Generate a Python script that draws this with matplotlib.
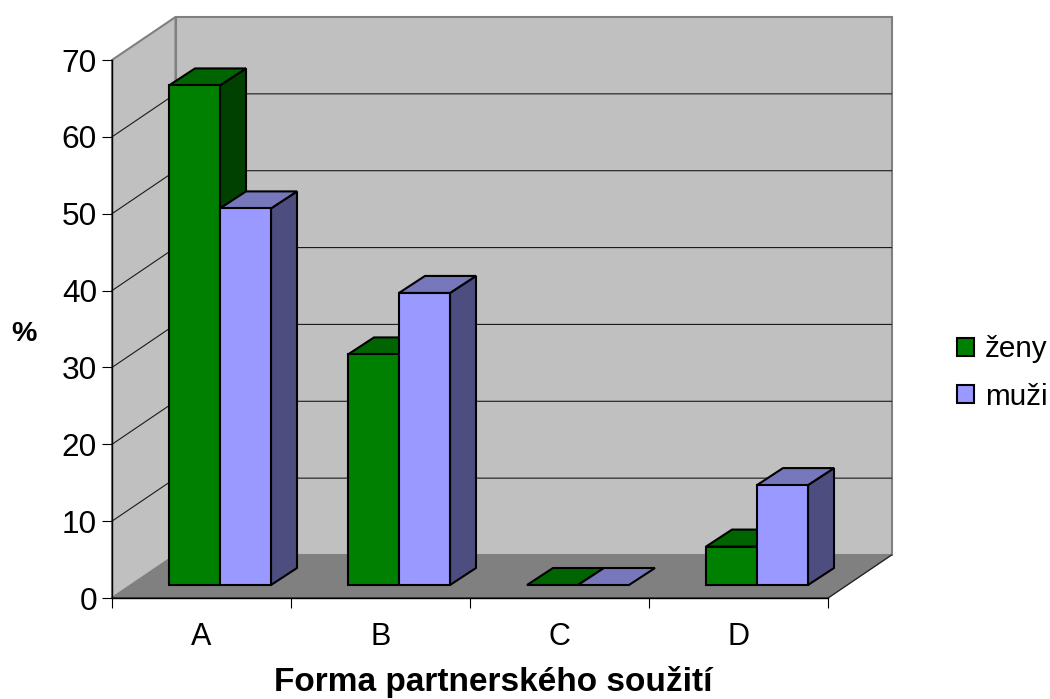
import matplotlib
matplotlib.use("Agg")
import matplotlib.pyplot as plt
from matplotlib.patches import Polygon, Patch
from matplotlib.lines import Line2D

plt.rcParams['font.family'] = ['Liberation Sans', 'DejaVu Sans']

categories = ['A', 'B', 'C', 'D']
zeny = [65, 30, 0, 5]
muzi = [49, 38, 0, 13]
y_ticks = [0, 10, 20, 30, 40, 50, 60, 70]
series_names = ['ženy', 'muži']
xlabel = 'Forma partnerského soužití'
ylabel = '%'

W, H = 1050, 699
fig = plt.figure(figsize=(W / 100, H / 100), dpi=100, facecolor='white')
L, R, T, B = 112, 828, 60, 598
ax = fig.add_axes([L / W, (H - B) / H, (R - L) / W, (B - T) / H])
ax.set_xlim(-0.5, 3.5)
ax.set_ylim(0, 70)
ax.patch.set_visible(False)

PX = (R - L) / 4            # pixels per category
PY = (B - T) / 70           # pixels per value unit


def off(x, v, dx=0, dy=0):
    """data point shifted by screen pixels (dy up)."""
    return (x + dx / PX, v + dy / PY)


def poly(pts, fc, ec='black', lw=1.5, z=2, **kw):
    ax.add_patch(Polygon(pts, closed=True, facecolor=fc, edgecolor=ec, linewidth=lw,
                         joinstyle='miter', clip_on=False, zorder=z, **kw))


WALL_D = (63.5, 43)
x0, x1 = -0.5, 3.5
vmax = y_ticks[-1]
# back wall, left wall, floor
poly([off(x0, 0, *WALL_D), off(x1, 0, *WALL_D), off(x1, vmax, *WALL_D), off(x0, vmax, *WALL_D)],
     '#C0C0C0', ec='#808080', lw=1.5, z=1)
poly([off(x0, 0), off(x0, 0, *WALL_D), off(x0, vmax, *WALL_D), off(x0, vmax)],
     '#C0C0C0', ec='#808080', lw=1.5, z=1)
poly([off(x0, 0), off(x1, 0), off(x1, 0, *WALL_D), off(x0, 0, *WALL_D)],
     '#808080', ec='#808080', lw=1, z=1)

# grid lines
for v in y_ticks[1:-1]:
    pts = [off(x0, v), off(x0, v, *WALL_D), off(x1, v, *WALL_D)]
    ax.add_line(Line2D([p[0] for p in pts], [p[1] for p in pts], color='#1a1a1a', lw=0.8,
                       clip_on=False, zorder=1.5))

# floor outline front / right
pts = [off(x0, 0), off(x1, 0), off(x1, 0, *WALL_D)]
ax.add_line(Line2D([p[0] for p in pts], [p[1] for p in pts], color='#222222', lw=0.9,
                   clip_on=False, zorder=1.6))

# bars
BW = 51
SHIFT = (18.5, 13)
DEPTH = (26, 17)
styles = [('#008000', '#006400', '#004000'), ('#9999FF', '#7777BB', '#4D4D80')]


def bar(x, v, left_px, style):
    f, t, s = style
    sx, sy = SHIFT
    dx, dy = DEPTH
    a = left_px + sx
    b = a + BW
    c = a + dx
    d = b + dx
    sy2 = sy + dy
    if v > 0:
        poly([off(x, 0, b, sy), off(x, 0, d, sy2), off(x, v, d, sy2), off(x, v, b, sy)], s)
    poly([off(x, v, a, sy), off(x, v, b, sy), off(x, v, d, sy2), off(x, v, c, sy2)], t)
    if v > 0:
        poly([off(x, 0, a, sy), off(x, 0, b, sy), off(x, v, b, sy), off(x, v, a, sy)], f)


for i in range(len(categories)):
    bar(i, zeny[i], -BW, styles[0])
    bar(i, muzi[i], 0, styles[1])

# axes
for side in ('top', 'right'):
    ax.spines[side].set_visible(False)
ax.spines['left'].set_linewidth(1)
ax.spines['bottom'].set_linewidth(1)
ax.spines['left'].set_zorder(3)
ax.spines['bottom'].set_zorder(1.7)
ax.set_yticks(y_ticks)
ax.set_yticklabels([str(v) for v in y_ticks], fontsize=22.7)
ax.set_xticks([-0.5, 0.5, 1.5, 2.5, 3.5])
ax.set_xticklabels([])
ax.set_xticks(range(4), categories, minor=True, fontsize=22)
ax.tick_params(axis='x', which='minor', length=0, pad=17)
ax.tick_params(axis='x', which='major', length=7.2, width=0.8)
ax.tick_params(axis='y', which='major', length=7.2, width=0.8, pad=3.6)

fig.text(24 / W, 1 - 334 / H, ylabel, fontsize=20.5, fontweight='bold', ha='center', va='center')
fig.text(493 / W, 1 - 691 / H, xlabel, fontsize=24, fontweight='bold', ha='center', va='baseline')

handles = [Patch(facecolor=styles[0][0], edgecolor='black', linewidth=1.5),
           Patch(facecolor=styles[1][0], edgecolor='black', linewidth=1.5)]
fig.legend(handles, series_names, loc='center left', bbox_to_anchor=(957 / W, 1 - 373 / H),
           frameon=False, fontsize=21.3, handlelength=0.58, handleheight=0.58,
           handletextpad=0.37, labelspacing=0.65, borderpad=0, borderaxespad=0)

fig.savefig('out.png', dpi=100, facecolor='white')
